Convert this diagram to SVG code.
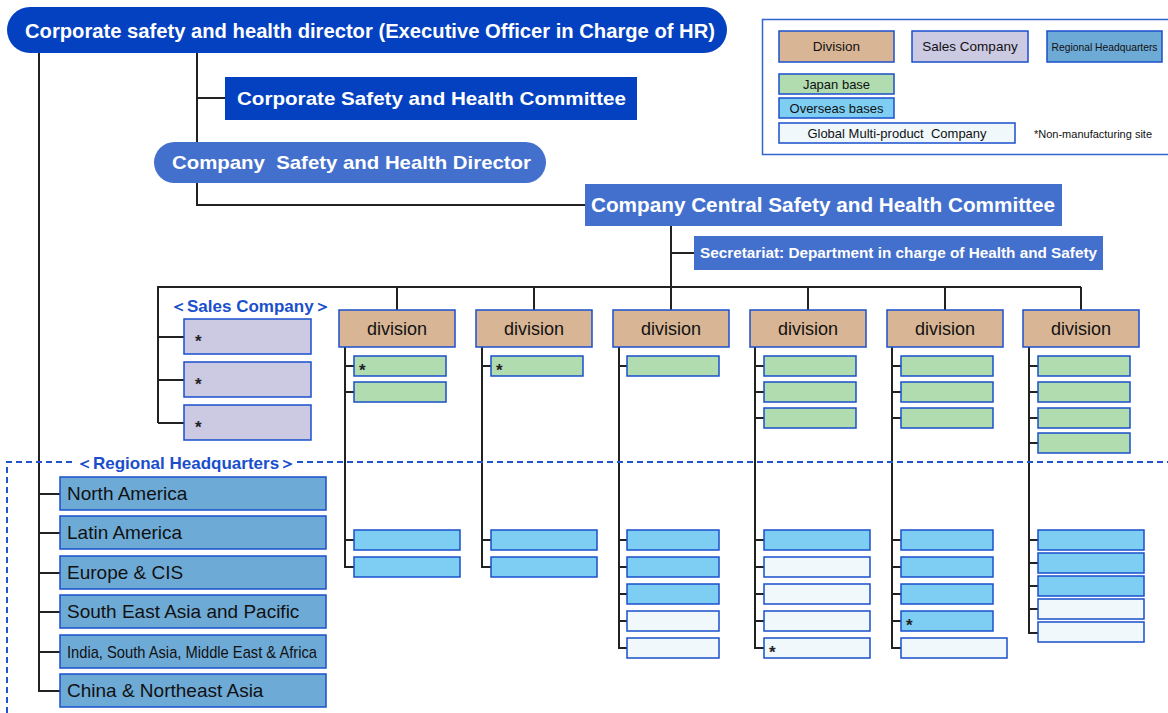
<svg xmlns="http://www.w3.org/2000/svg" width="1168" height="713" viewBox="0 0 1168 713">
<style>
.t{font-family:"Liberation Sans",Arial,sans-serif}
.w{fill:#fff;font-weight:bold}
.ln{stroke:#222;stroke-width:2;fill:none}
.dash{stroke:#2255cc;stroke-width:2;stroke-dasharray:6 4;fill:none}
.bx{stroke:#1a4fcc;stroke-width:1.5}
.div{fill:#d8b594}
.sal{fill:#ccc9e2}
.reg{fill:#6eaad6}
.jp{fill:#b0dcb0}
.ov{fill:#7ecef4}
.gl{fill:#f0f8fc}
.dk{fill:#111}
.blt{fill:#1a4fcc;font-weight:bold;font-size:17px}
.ast{font-size:17px;fill:#222;font-weight:bold}
</style>
<g id="connectors">
<path class="ln" d="M39 53V691H60"/>
<path class="ln" d="M39 494H60M39 533H60M39 573H60M39 612H60M39 652H60"/>
<path class="ln" d="M197 53V142M197 98H225M197 183V205H585"/>
<path class="ln" d="M671 226V287M671 253H694"/>
<path class="ln" d="M158 423V287H1081M397 287V310M534 287V310M671 287V310M808 287V310M945 287V310M1081 287V310"/>
<path class="ln" d="M158 337H184M158 380H184M158 423H184"/>
<path class="ln" d="M345 347V567H354M345 366H354M345 392H354M345 540H354"/>
<path class="ln" d="M482 347V567H491M482 366H491M482 540H491"/>
<path class="ln" d="M619 347V648H627M619 366H627M619 540H627M619 567H627M619 594H627M619 621H627"/>
<path class="ln" d="M755 347V648H764M755 366H764M755 392H764M755 418H764M755 540H764M755 567H764M755 594H764M755 621H764"/>
<path class="ln" d="M892 347V648H901M892 366H901M892 392H901M892 418H901M892 540H901M892 567H901M892 594H901M892 621H901"/>
<path class="ln" d="M1029 347V633H1038M1029 366H1038M1029 392H1038M1029 418H1038M1029 443H1038M1029 540H1038M1029 563H1038M1029 586H1038M1029 609H1038"/>
<path class="dash" d="M7 713V462H74M297 462H1168"/>
</g>
<g id="top-director">
<rect x="7" y="7" width="720" height="46" rx="23" fill="#0341c0"/>
<text class="t w" x="25" y="38" font-size="21" textLength="690" lengthAdjust="spacingAndGlyphs">Corporate safety and health director (Executive Officer in Charge of HR)</text>
</g>
<g id="corp-committee">
<rect x="225" y="77" width="412" height="43" fill="#0341c0"/>
<text class="t w" x="237" y="105" font-size="19" textLength="389" lengthAdjust="spacingAndGlyphs">Corporate Safety and Health Committee</text>
</g>
<g id="company-director">
<rect x="154" y="142" width="392" height="41" rx="20.5" fill="#4470cd"/>
<text class="t w" x="172" y="169" font-size="19" textLength="359" lengthAdjust="spacingAndGlyphs" xml:space="preserve">Company  Safety and Health Director</text>
</g>
<g id="central-committee">
<rect x="585" y="184" width="477" height="42" fill="#4470cd"/>
<text class="t w" x="591" y="212" font-size="20" textLength="464" lengthAdjust="spacingAndGlyphs">Company Central Safety and Health Committee</text>
</g>
<g id="secretariat">
<rect x="694" y="236" width="409" height="34" fill="#4470cd"/>
<text class="t w" x="700" y="258" font-size="14" textLength="397" lengthAdjust="spacingAndGlyphs">Secretariat: Department in charge of Health and Safety</text>
</g>
<g id="legend">
<rect x="762.5" y="19.5" width="410" height="135" fill="#fff" stroke="#3366cc" stroke-width="1.5"/>
<rect class="bx div" x="779" y="31" width="115" height="31"/>
<text class="t dk" x="836.5" y="51" font-size="13.5" text-anchor="middle">Division</text>
<rect class="bx sal" x="912" y="31" width="116" height="31"/>
<text class="t dk" x="970" y="51" font-size="13.5" text-anchor="middle">Sales Company</text>
<rect class="bx reg" x="1047" y="31" width="115" height="31"/>
<text class="t dk" x="1104.5" y="51" font-size="11.5" text-anchor="middle" textLength="106" lengthAdjust="spacingAndGlyphs">Regional Headquarters</text>
<rect class="bx jp" x="779" y="74" width="115" height="20"/>
<text class="t dk" x="836.5" y="89" font-size="13" text-anchor="middle">Japan base</text>
<rect class="bx ov" x="779" y="98" width="115" height="20"/>
<text class="t dk" x="836.5" y="113" font-size="13" text-anchor="middle">Overseas bases</text>
<rect class="bx gl" x="779" y="123" width="236" height="20"/>
<text class="t dk" x="897" y="138" font-size="13" text-anchor="middle" xml:space="preserve">Global Multi-product  Company</text>
<text class="t dk" x="1034" y="138" font-size="11">*Non-manufacturing site</text>
</g>
<g id="sales-companies">
<text class="t blt" x="170" y="312" font-family="'Liberation Sans','Noto Sans CJK JP',sans-serif">＜Sales Company＞</text>
<rect class="bx sal" x="184" y="319" width="127" height="35"/><text class="t ast" x="195" y="347">*</text>
<rect class="bx sal" x="184" y="362" width="127" height="35"/><text class="t ast" x="195" y="390">*</text>
<rect class="bx sal" x="184" y="405" width="127" height="35"/><text class="t ast" x="195" y="433">*</text>
</g>
<g id="regional-hq">
<text class="t blt" x="76" y="469" font-family="'Liberation Sans','Noto Sans CJK JP',sans-serif">＜Regional Headquarters＞</text>
<rect class="bx reg" x="60" y="477" width="266" height="33"/><text class="t dk" x="67" y="500" font-size="19">North America</text>
<rect class="bx reg" x="60" y="516" width="266" height="33"/><text class="t dk" x="67" y="539" font-size="19">Latin America</text>
<rect class="bx reg" x="60" y="556" width="266" height="33"/><text class="t dk" x="67" y="579" font-size="19">Europe &amp; CIS</text>
<rect class="bx reg" x="60" y="595" width="266" height="33"/><text class="t dk" x="67" y="618" font-size="19">South East Asia and Pacific</text>
<rect class="bx reg" x="60" y="635" width="266" height="33"/><text class="t dk" x="67" y="658" font-size="17" textLength="250" lengthAdjust="spacingAndGlyphs">India, South Asia, Middle East &amp; Africa</text>
<rect class="bx reg" x="60" y="674" width="266" height="33"/><text class="t dk" x="67" y="697" font-size="19">China &amp; Northeast Asia</text>
</g>
<g id="division-1">
<rect class="bx div" x="339" y="310" width="116" height="37"/><text class="t dk" x="397" y="335" font-size="18" text-anchor="middle">division</text>
<rect class="bx jp" x="354" y="356" width="92" height="20"/><text class="t ast" x="359" y="376">*</text>
<rect class="bx jp" x="354" y="382" width="92" height="20"/>
<rect class="bx ov" x="354" y="530" width="106" height="20"/>
<rect class="bx ov" x="354" y="557" width="106" height="20"/>
</g>
<g id="division-2">
<rect class="bx div" x="476" y="310" width="116" height="37"/><text class="t dk" x="534" y="335" font-size="18" text-anchor="middle">division</text>
<rect class="bx jp" x="491" y="356" width="92" height="20"/><text class="t ast" x="496" y="376">*</text>
<rect class="bx ov" x="491" y="530" width="106" height="20"/>
<rect class="bx ov" x="491" y="557" width="106" height="20"/>
</g>
<g id="division-3">
<rect class="bx div" x="613" y="310" width="116" height="37"/><text class="t dk" x="671" y="335" font-size="18" text-anchor="middle">division</text>
<rect class="bx jp" x="627" y="356" width="92" height="20"/>
<rect class="bx ov" x="627" y="530" width="92" height="20"/>
<rect class="bx ov" x="627" y="557" width="92" height="20"/>
<rect class="bx ov" x="627" y="584" width="92" height="20"/>
<rect class="bx gl" x="627" y="611" width="92" height="20"/>
<rect class="bx gl" x="627" y="638" width="92" height="20"/>
</g>
<g id="division-4">
<rect class="bx div" x="750" y="310" width="116" height="37"/><text class="t dk" x="808" y="335" font-size="18" text-anchor="middle">division</text>
<rect class="bx jp" x="764" y="356" width="92" height="20"/>
<rect class="bx jp" x="764" y="382" width="92" height="20"/>
<rect class="bx jp" x="764" y="408" width="92" height="20"/>
<rect class="bx ov" x="764" y="530" width="106" height="20"/>
<rect class="bx gl" x="764" y="557" width="106" height="20"/>
<rect class="bx gl" x="764" y="584" width="106" height="20"/>
<rect class="bx gl" x="764" y="611" width="106" height="20"/>
<rect class="bx gl" x="764" y="638" width="106" height="20"/><text class="t ast" x="769" y="658">*</text>
</g>
<g id="division-5">
<rect class="bx div" x="887" y="310" width="116" height="37"/><text class="t dk" x="945" y="335" font-size="18" text-anchor="middle">division</text>
<rect class="bx jp" x="901" y="356" width="92" height="20"/>
<rect class="bx jp" x="901" y="382" width="92" height="20"/>
<rect class="bx jp" x="901" y="408" width="92" height="20"/>
<rect class="bx ov" x="901" y="530" width="92" height="20"/>
<rect class="bx ov" x="901" y="557" width="92" height="20"/>
<rect class="bx ov" x="901" y="584" width="92" height="20"/>
<rect class="bx ov" x="901" y="611" width="92" height="20"/><text class="t ast" x="906" y="631">*</text>
<rect class="bx gl" x="901" y="638" width="106" height="20"/>
</g>
<g id="division-6">
<rect class="bx div" x="1023" y="310" width="116" height="37"/><text class="t dk" x="1081" y="335" font-size="18" text-anchor="middle">division</text>
<rect class="bx jp" x="1038" y="356" width="92" height="20"/>
<rect class="bx jp" x="1038" y="382" width="92" height="20"/>
<rect class="bx jp" x="1038" y="408" width="92" height="20"/>
<rect class="bx jp" x="1038" y="433" width="92" height="20"/>
<rect class="bx ov" x="1038" y="530" width="106" height="20"/>
<rect class="bx ov" x="1038" y="553" width="106" height="20"/>
<rect class="bx ov" x="1038" y="576" width="106" height="20"/>
<rect class="bx gl" x="1038" y="599" width="106" height="20"/>
<rect class="bx gl" x="1038" y="622" width="106" height="20"/>
</g>
</svg>
